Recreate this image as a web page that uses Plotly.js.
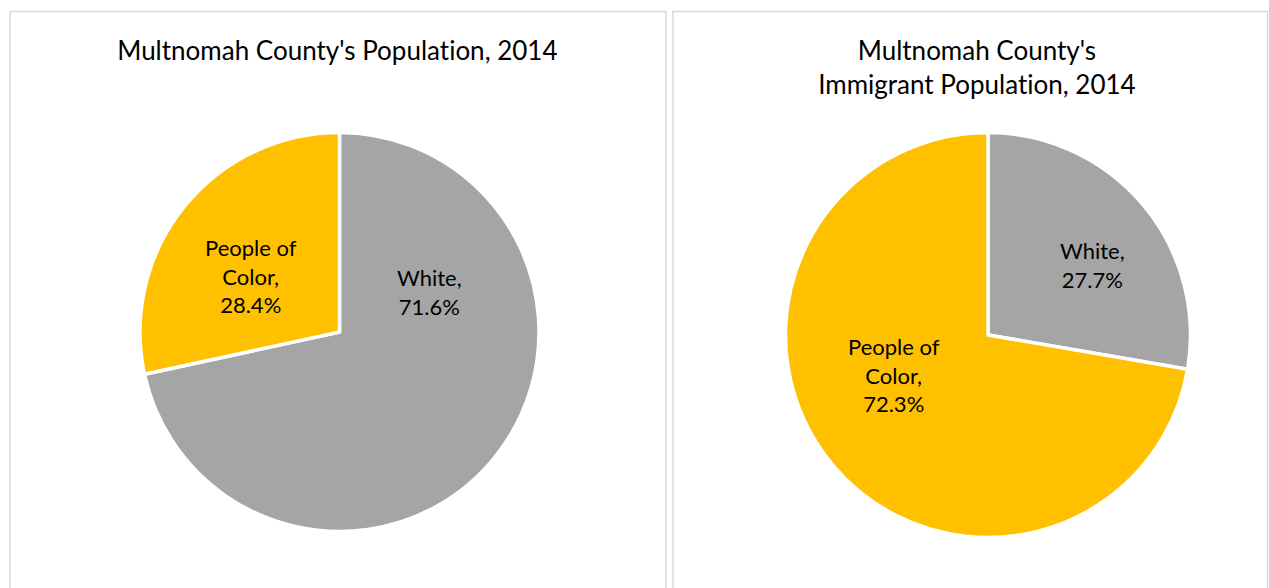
<!DOCTYPE html>
<html>
<head>
<meta charset="utf-8">
<script src="https://cdn.plot.ly/plotly-3.0.1.min.js"></script>
<style>html,body{margin:0;padding:0;background:#fff;}#chart{width:1269px;height:588px;}#chart text{font-variant-ligatures:none;font-feature-settings:"liga" 0,"clig" 0;}</style>
</head>
<body>
<div id="chart"></div>
<script>
// ---- data ----
var categories = ["White", "People of Color"];
var categoryLabelText = ["White,", "People of<br>Color,"];
var countyValues = [71.6, 28.4];
var immigrantValues = [27.7, 72.3];
var chartTitles = ["Multnomah County's Population, 2014", "Multnomah County's<br>Immigrant Population, 2014"];
var sliceColors = ["#A5A5A5", "#FFC000"];

// ---- layout helpers ----
var W = 1269, H = 588;
function px(x) { return x / W; }
function py(y) { return 1 - y / H; }
var FONT = "Lato, 'Noto Sans', sans-serif";

function pieTrace(values, cx, cy, r) {
  return {
    type: "pie",
    labels: categories,
    values: values,
    sort: false,
    direction: "clockwise",
    rotation: 0,
    textinfo: "none",
    hoverinfo: "label+value",
    showlegend: false,
    marker: { colors: sliceColors, line: { color: "#ffffff", width: 3.5 } },
    domain: { x: [px(cx - r), px(cx + r)], y: [py(cy + r), py(cy - r)] }
  };
}

var data = [
  pieTrace(countyValues, 339.5, 332, 199.5),
  pieTrace(immigrantValues, 988, 335, 202.5)
];

function labelAnn(i, values, x, y) {
  return {
    xref: "paper", yref: "paper", x: px(x), y: py(y),
    xanchor: "center", yanchor: "middle", showarrow: false,
    text: categoryLabelText[i] + "<br>" + values[i].toFixed(1) + "%",
    font: { family: FONT, size: 22, color: "#000000" }
  };
}

var annotations = [
  { xref: "paper", yref: "paper", x: px(337.5), y: py(50), xanchor: "center", yanchor: "middle",
    showarrow: false, text: chartTitles[0], font: { family: FONT, size: 26, color: "#000000" } },
  { xref: "paper", yref: "paper", x: px(977.5), y: py(67), xanchor: "center", yanchor: "middle",
    showarrow: false, text: chartTitles[1], font: { family: FONT, size: 26, color: "#000000" } },
  labelAnn(0, countyValues, 429, 292),
  labelAnn(1, countyValues, 250.5, 276),
  labelAnn(0, immigrantValues, 1092, 265),
  labelAnn(1, immigrantValues, 894, 375)
];

var shapes = [
  { type: "rect", xref: "paper", yref: "paper", x0: px(10), x1: px(666), y0: py(620), y1: py(11.5),
    line: { color: "#D9D9D9", width: 1.5 }, fillcolor: "rgba(0,0,0,0)", layer: "below" },
  { type: "rect", xref: "paper", yref: "paper", x0: px(673), x1: px(1267.5), y0: py(620), y1: py(11.5),
    line: { color: "#D9D9D9", width: 1.5 }, fillcolor: "rgba(0,0,0,0)", layer: "below" }
];

var layout = {
  width: W, height: H,
  margin: { l: 0, r: 0, t: 0, b: 0 },
  paper_bgcolor: "#ffffff",
  font: { family: FONT },
  annotations: annotations,
  shapes: shapes
};

Plotly.newPlot("chart", data, layout, { displayModeBar: false, staticPlot: true });
</script>
</body>
</html>
